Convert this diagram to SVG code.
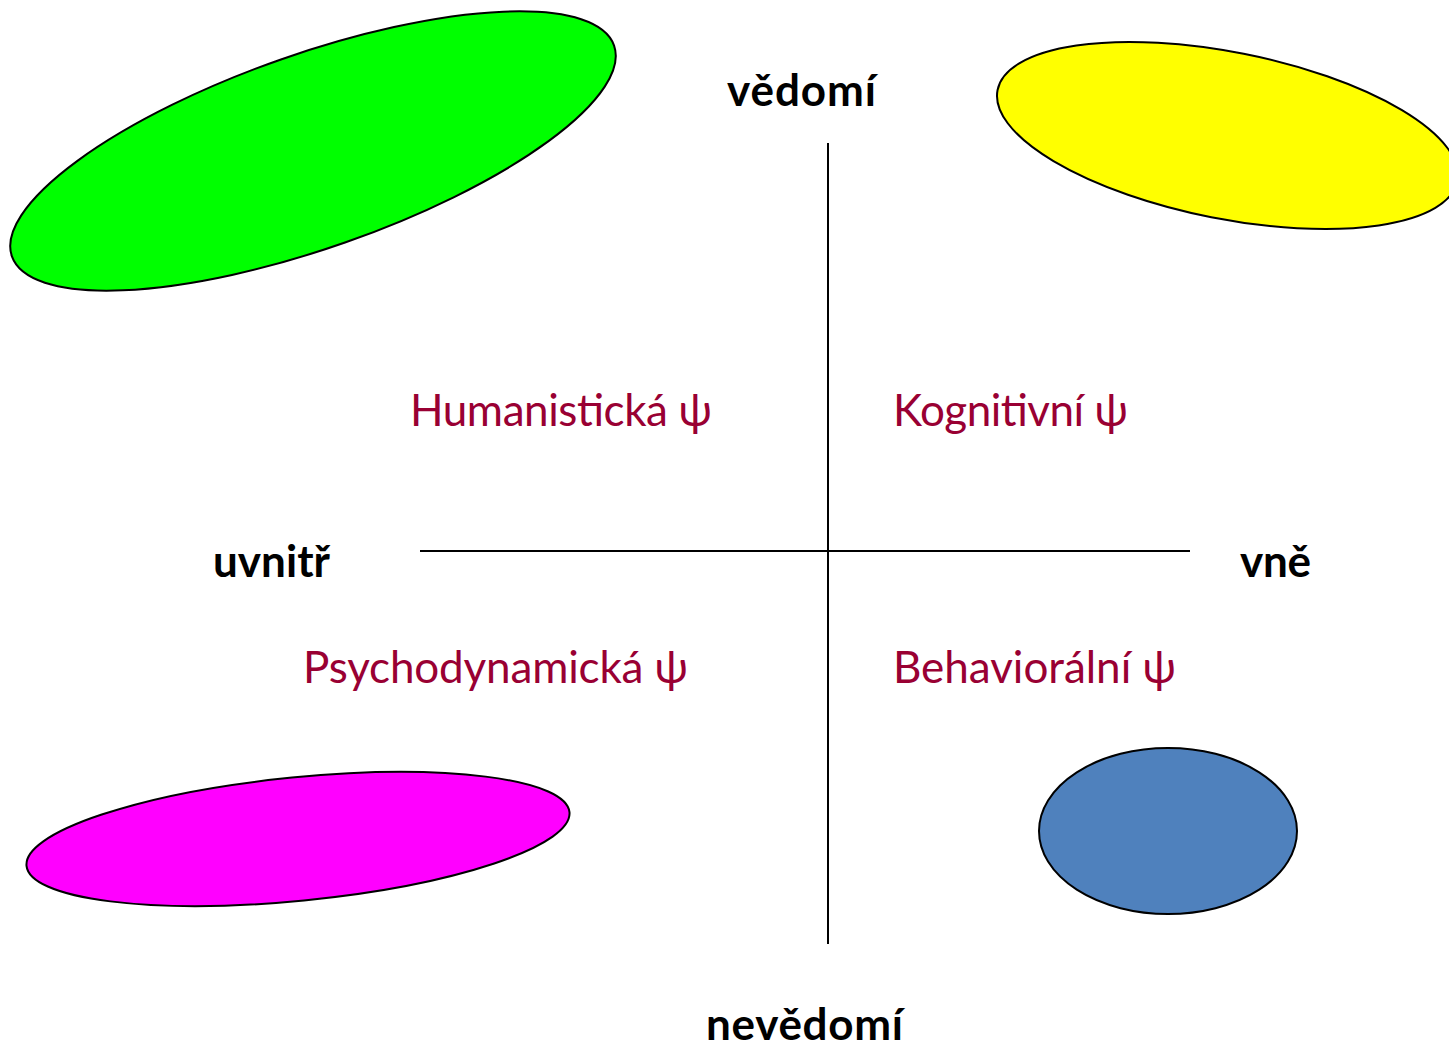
<svg xmlns="http://www.w3.org/2000/svg" width="1449" height="1047" viewBox="0 0 1449 1047">
<style>
.sh{stroke:#000;stroke-width:2}
.ax{stroke:#000;stroke-width:2;fill:none}
.lbl{font-family:Lato,"Open Sans","Liberation Sans",sans-serif;font-weight:bold;font-size:44px;fill:#000}
.psy{font-family:Lato,"Open Sans","Liberation Sans",sans-serif;font-size:44px;fill:#990033}
</style>
<rect width="1449" height="1047" fill="#fff"/>
<g id="green"><ellipse class="sh" cx="313" cy="151" rx="319" ry="97" fill="#00ff00" transform="rotate(-19.3 313 151)"/></g>
<g id="yellow"><ellipse class="sh" cx="1227.5" cy="135.5" rx="234.4" ry="83.3" fill="#ffff00" transform="rotate(11.2 1227.5 135.5)"/></g>
<g id="magenta"><ellipse class="sh" cx="298" cy="839" rx="272.8" ry="61.7" fill="#ff00ff" transform="rotate(-5.64 298 839)"/></g>
<g id="blue"><ellipse class="sh" cx="1168" cy="831" rx="129" ry="83" fill="#4f81bd"/></g>
<g id="connectors">
<line class="ax" x1="828" y1="143" x2="828" y2="944"/>
<line class="ax" x1="420" y1="551" x2="1190" y2="551"/>
</g>
<g id="vedomi"><text class="lbl" x="727" y="106" textLength="149">vědomí</text></g>
<g id="nevedomi"><text class="lbl" x="706" y="1040" textLength="197">nevědomí</text></g>
<g id="uvnitr"><text class="lbl" x="213" y="577" textLength="117">uvnitř</text></g>
<g id="vne"><text class="lbl" x="1240" y="577" textLength="71">vně</text></g>
<g id="humanisticka"><text class="psy" x="410" y="426" textLength="302">Humanistická ψ</text></g>
<g id="kognitivni"><text class="psy" x="893" y="426" textLength="235">Kognitivní ψ</text></g>
<g id="psychodynamicka"><text class="psy" x="303" y="683" textLength="385">Psychodynamická ψ</text></g>
<g id="behavioralni"><text class="psy" x="893" y="683" textLength="283">Behaviorální ψ</text></g>
</svg>
